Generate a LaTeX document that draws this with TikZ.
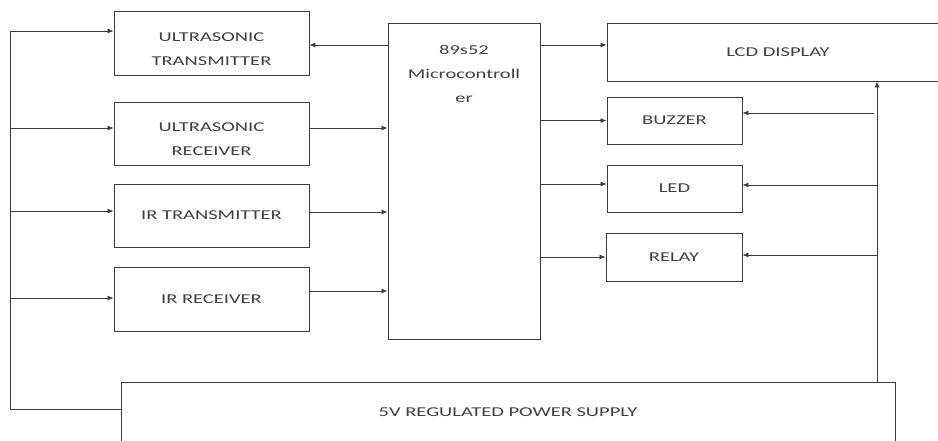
\documentclass[tikz,border=0pt]{standalone}
\usepackage{fontspec}
\setmainfont[FakeStretch=1.52]{Carlito}
\usepackage{tikz}
\usetikzlibrary{arrows.meta,positioning}
\definecolor{frame}{HTML}{3C3C3C}
\definecolor{ink}{HTML}{404040}
\tikzset{flow/.style={-{Latex[length=6pt,width=5pt]},draw=frame,line width=.8pt},link/.style={draw=frame,line width=.8pt},block/.style={draw=frame,line width=.9pt,inner sep=0pt,text=ink,font=\fontsize{13.5}{24}\selectfont,align=center},tag/.style={text=ink,font=\fontsize{13.5}{24}\selectfont,align=center}}

\begin{document}
\begin{tikzpicture}[x=1pt,y=-1pt]
 \clip (0,0) rectangle (938,441); \fill[white] (0,0) rectangle (938,441);
 % left column
 \node[block,minimum width=195,minimum height=64] (ut) at (211.5,43) {};
 \node[tag] (uttext) at ([yshift=-6pt]ut.center) {ULTRASONIC\\TRANSMITTER};
 \node[block,minimum width=195,minimum height=63] (ur) at (211.5,133.5) {};
 \node[tag] (urtext) at ([yshift=-6pt]ur.center) {ULTRASONIC\\RECEIVER};
 \node[block,minimum width=195,minimum height=63] (irt) at (211.5,215.5) {IR TRANSMITTER};
 \node[block,minimum width=195,minimum height=64] (irr) at (211.5,299) {IR RECEIVER};
 % controller
 \node[block,minimum width=152,minimum height=316] (mc) at (464,181) {};
 \node[tag,below=19pt of mc.north] (mctext) {89s52\\Microcontroll\\er};
 % outputs
 \node[block,minimum width=342,minimum height=58] (lcd) at (778,52) {LCD DISPLAY};
 \node[block,minimum width=135,minimum height=47] (buz) at (674.5,120.5) {BUZZER};
 \node[block,minimum width=135,minimum height=47] (led) at (674.5,188.5) {LED};
 \node[block,minimum width=136,minimum height=48] (rly) at (674,257) {RELAY};
 \node[block,minimum width=774,minimum height=60] (ps) at (508,412) {5V REGULATED POWER SUPPLY};
 % supply wiring
 \coordinate (bt) at (10,31); \coordinate (bb) at (10,409);
 \draw[link] (bt) -- (bb) -- (bb -| ps.west);
 \foreach \n/\y in {ut/31,ur/128,irt/211,irr/298}{\coordinate (b\n) at (10,\y); \draw[flow] (b\n) -- (b\n -| \n.west);}
 \coordinate (rt) at (877,382); \draw[flow] (rt) -- (rt |- lcd.south);
 \foreach \n/\y/\x in {buz/113/874,led/185/877,rly/255/877}{\coordinate (r\n) at (\x,\y); \draw[flow] (r\n) -- (r\n -| \n.east);}
 % signal wiring
 \draw[flow] ([yshift=-2pt]ut.east -| mc.west) -- ([yshift=-2pt]ut.east);
 \foreach \n/\d in {ur/5.5,irt/3.5,irr/8}\draw[flow] ([yshift=\d pt]\n.east) -- ([yshift=\d pt]\n.east -| mc.west);
 \foreach \n/\d in {lcd/7,buz/0,led/4.5,rly/0}\draw[flow] ([yshift=\d pt]\n.west -| mc.east) -- ([yshift=\d pt]\n.west);
\end{tikzpicture}
\end{document}
